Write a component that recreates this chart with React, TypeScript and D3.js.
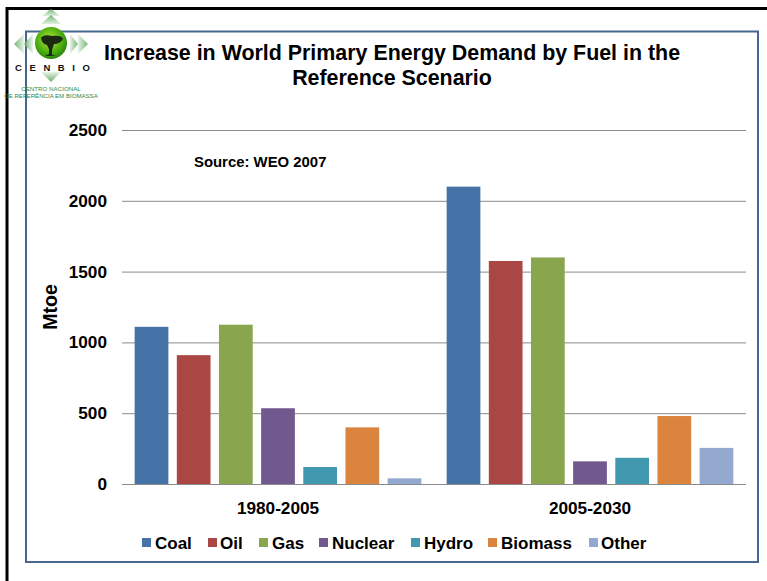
import React from "react";
import * as d3 from "d3";

const periods = ["1980-2005", "2005-2030"];
const fuels = ["Coal", "Oil", "Gas", "Nuclear", "Hydro", "Biomass", "Other"];
const colours = ["#4572a7", "#aa4643", "#89a54e", "#71588f", "#4198af", "#db843d", "#93a9cf"];
const demand1980to2005 = [1110, 910, 1125, 535, 120, 400, 40];
const demand2005to2030 = [2100, 1575, 1600, 160, 185, 480, 255];
const demandByPeriod = [demand1980to2005, demand2005to2030];
const yTicks = [0, 500, 1000, 1500, 2000, 2500];
const titleLines = ["Increase in World Primary Energy Demand by Fuel in the", "Reference Scenario"];
const legendSwatchX = [142, 208, 259, 319, 411, 488, 589];
const legendTextX = [155, 220, 272, 332, 424, 501, 601];

const font = "'Liberation Sans', Arial, sans-serif";

const Arrow = ({ d, id }: { d: string; id: string }) => <path d={d} fill={`url(#${id})`} fillOpacity={0.85} />;

// CENBIO emblem: green globe with a tree, four arrow clusters and the wordmark
function Logo() {
  return (
    <g>
      <defs>
        <radialGradient id="globe" cx="0.45" cy="0.4" r="0.65">
          <stop offset="0" stopColor="#b4ea3a" />
          <stop offset="0.6" stopColor="#4fb010" />
          <stop offset="1" stopColor="#1f7d0c" />
        </radialGradient>
        <linearGradient id="up" x1="0" y1="0" x2="0" y2="1">
          <stop offset="0" stopColor="#5aa85a" />
          <stop offset="1" stopColor="#dcefdc" />
        </linearGradient>
        <linearGradient id="down" x1="0" y1="1" x2="0" y2="0">
          <stop offset="0" stopColor="#4f9f4f" />
          <stop offset="1" stopColor="#e4f2e4" />
        </linearGradient>
        <linearGradient id="left" x1="0" y1="0" x2="1" y2="0">
          <stop offset="0" stopColor="#5aa85a" />
          <stop offset="1" stopColor="#e4f2e4" />
        </linearGradient>
        <linearGradient id="right" x1="1" y1="0" x2="0" y2="0">
          <stop offset="0" stopColor="#5aa85a" />
          <stop offset="1" stopColor="#e4f2e4" />
        </linearGradient>
      </defs>
      <Arrow id="up" d="M51 9 L60 16 L42 16 Z" />
      <Arrow id="up" d="M51 15 L61 24 L41 24 Z" />
      <Arrow id="left" d="M14 44 L24 34 L24 54 Z" />
      <Arrow id="left" d="M24 44 L33 34 L33 54 Z" />
      <Arrow id="right" d="M88 44 L78 34 L78 54 Z" />
      <Arrow id="right" d="M78 44 L70 34 L70 54 Z" />
      <Arrow id="down" d="M51 82 L41 72 L61 72 Z" />
      <circle cx="51" cy="43" r="16" fill="url(#globe)" />
      <path d="M41 38 Q44 34 52 36 Q62 35 63 39 Q60 44 54 44 L52 50 L52 55 L56 56 L45 56 L49 54 L49 49 L47 45 Q42 44 41 38 Z" fill="#1c2a12" />
      <text x="15" y="71" fontFamily={font} fontWeight={700} fontSize={9.5} letterSpacing={7.6} fill="#111">CENBIO</text>
      <text x="51" y="91" textAnchor="middle" fontFamily={font} fontSize={6.2} fill="#2f8a4a">CENTRO NACIONAL</text>
      <text x="51" y="98" textAnchor="middle" fontFamily={font} fontSize={6.1} fill="#2f8a4a">DE REFERÊNCIA EM BIOMASSA</text>
    </g>
  );
}

export default function App() {
  const y = d3.scaleLinear().domain([0, 2500]).range([484, 130]);
  const x0 = d3.scaleBand<string>().domain(periods).range([122, 746]);
  const x1 = d3.scaleBand<string>().domain(fuels).range([0, x0.bandwidth()]).paddingInner(0.2).paddingOuter(0.3);

  return (
    <svg
      width={767}
      height={581}
      viewBox="0 0 767 581"
      style={{ position: "absolute", left: 0, top: 0, display: "block", background: "#fff" }}
    >
      {/* slide border, open on the right-hand side */}
      <path d="M767 8.5 L7 8.5 L7 581" fill="none" stroke="#000" strokeWidth={3} />
      <rect x={26} y={31.5} width={732} height={530.5} fill="none" stroke="#44668f" strokeWidth={2} />
      <Logo />

      {titleLines.map((line, i) => (
        <text key={line} x={392} y={60 + i * 25} textAnchor="middle" fontFamily={font} fontWeight={700} fontSize={21.4} fill="#000">
          {line}
        </text>
      ))}

      {yTicks.map((t) => (
        <g key={t}>
          <line x1={122} x2={746} y1={y(t) + 0.5} y2={y(t) + 0.5} stroke="#8a8a8a" strokeWidth={1} />
          <text x={107} y={y(t) + 6} textAnchor="end" fontFamily={font} fontWeight={700} fontSize={17.2} fill="#000">
            {t}
          </text>
        </g>
      ))}

      {periods.map((p, pi) => (
        <g key={p}>
          {fuels.map((f, fi) => (
            <rect
              key={f}
              x={(x0(p) as number) + (x1(f) as number)}
              y={y(demandByPeriod[pi][fi])}
              width={x1.bandwidth()}
              height={y(0) - y(demandByPeriod[pi][fi])}
              fill={colours[fi]}
            />
          ))}
          <text
            x={(x0(p) as number) + x0.bandwidth() / 2}
            y={514}
            textAnchor="middle"
            fontFamily={font}
            fontWeight={700}
            fontSize={17.2}
            fill="#000"
          >
            {p}
          </text>
        </g>
      ))}

      <text x={194} y={167} fontFamily={font} fontWeight={700} fontSize={14.9} fill="#000">
        Source: WEO 2007
      </text>

      <text
        transform="translate(57,307) rotate(-90)"
        textAnchor="middle"
        fontFamily={font}
        fontWeight={700}
        fontSize={19.5}
        fill="#000"
      >
        Mtoe
      </text>

      {fuels.map((f, i) => (
        <g key={f}>
          <rect x={legendSwatchX[i]} y={538} width={9} height={9} fill={colours[i]} />
          <text x={legendTextX[i]} y={549} fontFamily={font} fontWeight={700} fontSize={17} fill="#000">
            {f}
          </text>
        </g>
      ))}
    </svg>
  );
}
